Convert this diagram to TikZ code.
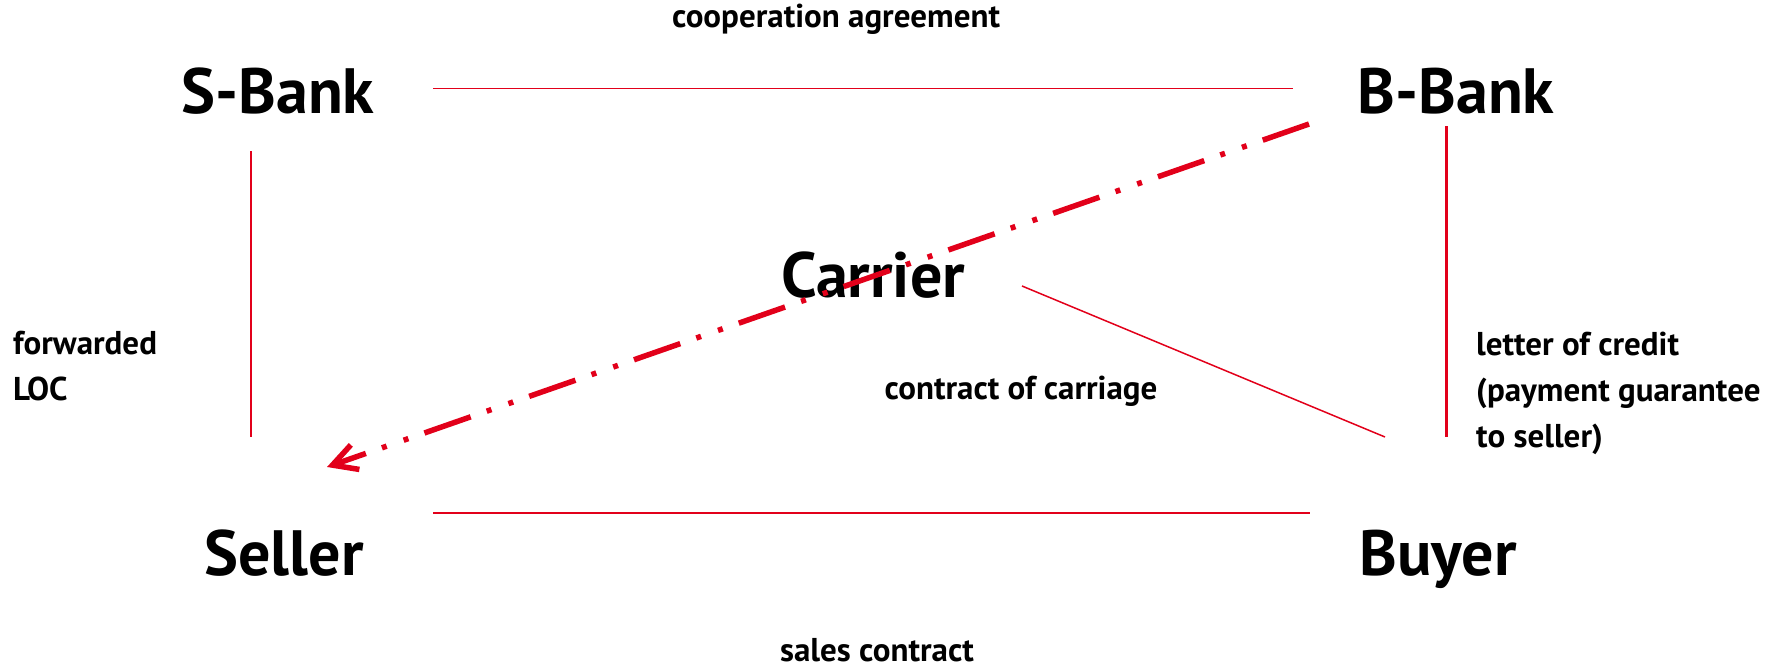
\documentclass[tikz,border=0pt]{standalone}
\usepackage{fontspec}
\setmainfont{PT Sans}
\usetikzlibrary{arrows.meta,calc}
\definecolor{linkred}{RGB}{226,0,26}
\tikzset{
  party/.style={anchor=base, inner sep=0pt, font=\bfseries\fontsize{64}{64}\selectfont},
  note/.style={anchor=base, inner sep=0pt, align=left, font=\bfseries\fontsize{33}{46}\selectfont},
  link/.style={draw=linkred, line width=1.5},
  guarantee/.style={draw=linkred, line width=3},
  docflow/.style={draw=linkred, line width=5.5, dash pattern=on 49 off 17 on 5 off 18 on 5 off 17,
    -{Straight Barb[length=24, width=26, line width=5.5]}},
}

\begin{document}
\begin{tikzpicture}[x=1pt,y=1pt,yscale=-1]
\useasboundingbox (0,0) rectangle (1779,669);

% Parties
\node [party] (sbank) at (278,113) {S-Bank};
\node [party] (bbank) at (1456,113) {B-Bank};
\node [party] (carrier) at (873,297) {Carrier};
\node [party] (seller) at (284,575) {Seller};
\node [party] (buyer) at (1438,575) {Buyer};

% Straight Lines
\draw [link] ($(sbank.base)+(155,-24.5)$) -- ($(bbank.base)+(-163,-24.5)$);
\draw [link] ($(sbank.base)+(-27,38)$) -- ($(seller.base)+(-33,-138)$);
\draw [guarantee] ($(bbank.base)+(-10,13)$) -- ($(buyer.base)+(8,-138)$);
\draw [link] ($(seller.base)+(149,-62)$) -- ($(buyer.base)+(-128,-62)$);
\draw [link] ($(carrier.base)+(149,-11)$) -- ($(buyer.base)+(-53,-138)$);

% Dash-dot arrow
\draw [docflow] ($(bbank.base)+(-147,11)$) -- ($(seller.base)+(43,-108)$);

% Text Node
\node [note] (coop) at (836,28) {cooperation agreement};
\node [note, anchor=base west] (fwd) at (13,400) {forwarded\\LOC};
\node [note] (carriage) at (1021,399) {contract of carriage};
\node [note, anchor=base west] (loc) at (1476,447) {letter of credit\\(payment guarantee\\to seller)};
\node [note] (sales) at (877,661) {sales contract};

\end{tikzpicture}
\end{document}
